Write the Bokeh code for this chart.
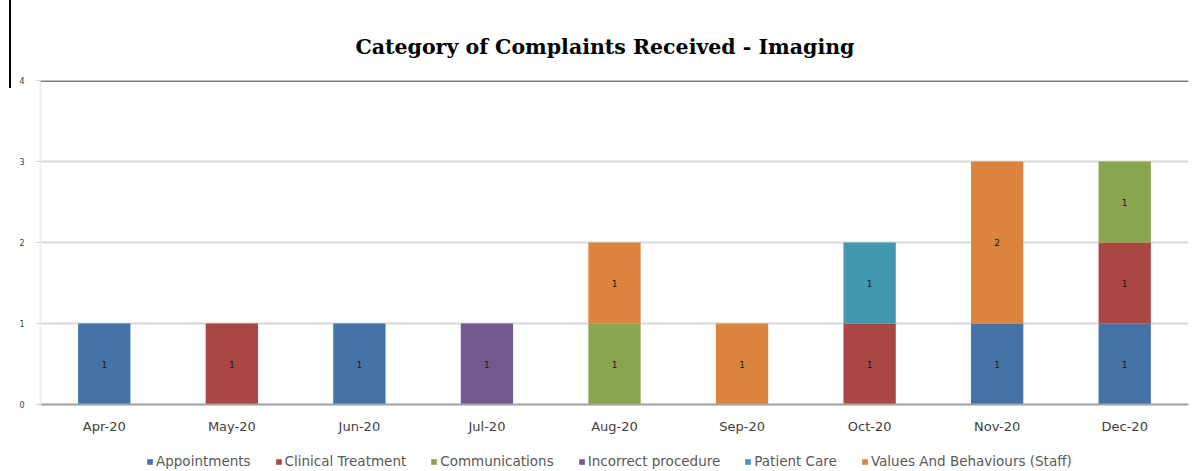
from bokeh.plotting import figure
from bokeh.models import (ColumnDataSource, FactorRange, Legend, FixedTicker, Span, Range1d,
                          InlineStyleSheet)
from bokeh.core.properties import value
from bokeh.embed import file_html
from bokeh.resources import INLINE

# Monthly complaint counts per category
months = ["Apr-20", "May-20", "Jun-20", "Jul-20", "Aug-20", "Sep-20", "Oct-20", "Nov-20", "Dec-20"]
appointments = [1, 0, 1, 0, 0, 0, 0, 1, 1]
clinical_treatment = [0, 1, 0, 0, 0, 0, 1, 0, 1]
communications = [0, 0, 0, 0, 1, 0, 0, 0, 1]
incorrect_procedure = [0, 0, 0, 1, 0, 0, 0, 0, 0]
patient_care = [0, 0, 0, 0, 0, 0, 1, 0, 0]
values_behaviours = [0, 0, 0, 0, 1, 1, 0, 2, 0]

series_names = ["Appointments", "Clinical Treatment", "Communications",
                "Incorrect procedure", "Patient Care", "Values And Behaviours (Staff)"]
series_values = [appointments, clinical_treatment, communications,
                 incorrect_procedure, patient_care, values_behaviours]
colors = ["#4572A7", "#AA4643", "#89A54E", "#71588F", "#4198AF", "#DB843D"]
y_ticks = [0, 1, 2, 3, 4]
y_max = 4

# layout in pixels: value axis spans 324 px, with room under it for labels and legend
axis_px = 324
under_px = 67
y_min = -under_px * y_max / axis_px

keys = [f"s{i}" for i in range(len(series_names))]
data = {"month": months}
for k, vals in zip(keys, series_values):
    data[k] = vals
source = ColumnDataSource(data)

p = figure(frame_width=1148, frame_height=axis_px + under_px,
           x_range=FactorRange(*months, range_padding=0), y_range=Range1d(y_min, y_max),
           output_backend="svg", toolbar_location=None,
           min_border_left=40, min_border_right=8, min_border_top=80, min_border_bottom=0)

renderers = p.vbar_stack(keys, x="month", width=0.41, source=source, color=colors,
                         line_color=None)

# segment value labels at the middle of each non-empty segment
lx, ly, lt = [], [], []
for i, m in enumerate(months):
    base = 0
    for vals in series_values:
        v = vals[i]
        if v:
            lx.append(m)
            ly.append(base + v / 2)
            lt.append(str(v))
        base += v
p.text(x=lx, y=ly, text=lt, text_align="center", text_baseline="middle",
       text_font_size="9px", text_color="#1a1a1a", text_font=value("DejaVu Sans"))

p.title.text = "Category of Complaints Received - Imaging"
p.title.align = "left"
p.title.offset = 315
p.title.text_font = "DejaVu Serif"
p.title.text_font_size = "20.5px"
p.title.text_font_style = "bold"
p.title.text_color = "#000000"
p.title.standoff = 43

p.outline_line_color = None
p.background_fill_color = "white"
p.border_fill_color = "white"

p.xgrid.grid_line_color = None
p.ygrid.grid_line_color = "#d9d9d9"
p.ygrid.grid_line_width = 2
p.yaxis.ticker = FixedTicker(ticks=y_ticks)
p.yaxis.bounds = (0, y_max)
p.yaxis.axis_line_color = "#eeeeee"
p.yaxis.axis_line_width = 2
p.yaxis.major_tick_line_color = "#d9d9d9"
p.yaxis.major_tick_out = 5
p.yaxis.major_tick_in = 0
p.yaxis.minor_tick_line_color = None
p.yaxis.major_label_standoff = 11
p.yaxis.major_label_text_font_size = "8px"
p.yaxis.major_label_text_color = "#404040"
p.yaxis.major_label_text_font = "DejaVu Sans"

# category axis sits on the zero line
p.xaxis.fixed_location = 0
p.xaxis.axis_line_color = "#a6a6a6"
p.xaxis.axis_line_width = 2
p.xaxis.major_tick_line_color = None
p.xaxis.major_label_text_font_size = "13px"
p.xaxis.major_label_text_color = "#404040"
p.xaxis.major_label_text_font = "DejaVu Sans"
p.xaxis.major_label_standoff = 8

# darker top line of the plot area
p.add_layout(Span(location=y_max, dimension="width", line_color="#7f7f7f", line_width=3))

legend = Legend(items=[(n, [r]) for n, r in zip(series_names, renderers)],
                orientation="horizontal", location=(106, 2),
                label_text_font_size="13.5px", label_text_color="#595959",
                label_text_font="DejaVu Sans", label_standoff=3,
                glyph_width=7, glyph_height=7, spacing=24, padding=2, margin=0,
                border_line_color=None, background_fill_alpha=0)
p.add_layout(legend, "center")

# short black rule at the top left corner of the page
p.stylesheets = [InlineStyleSheet(css="""
:host { position: relative; }
:host::after {
  content: ""; position: absolute; left: 9px; top: 0px;
  width: 2px; height: 88px; background: #000; z-index: 100;
}
""")]

open("out.html", "w").write(file_html(p, INLINE))
